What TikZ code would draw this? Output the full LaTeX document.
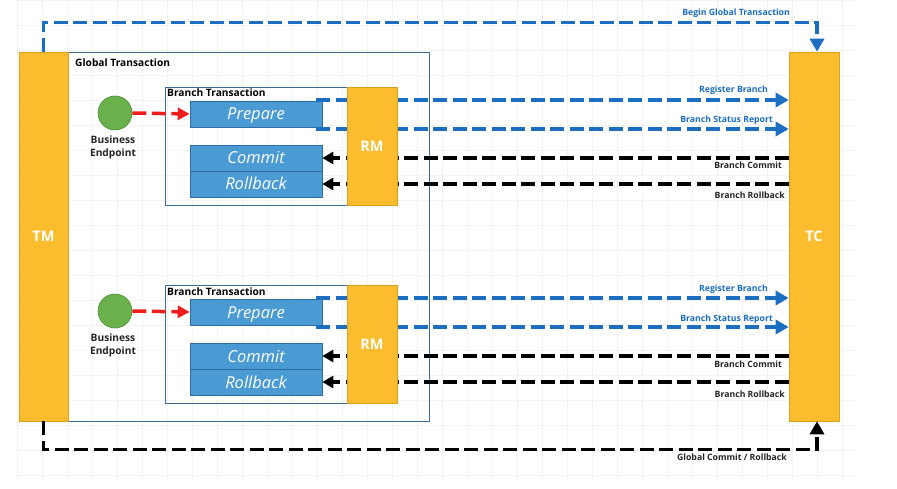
\documentclass[tikz,border=0pt]{standalone}
\usepackage{fontspec}
\setmainfont{Open Sans}
\usetikzlibrary{arrows.meta}
\definecolor{orng}{HTML}{FBBD2E}
\definecolor{orngb}{HTML}{D9A21B}
\definecolor{bluef}{HTML}{4A9AD4}
\definecolor{blueb}{HTML}{2E6DA4}
\definecolor{bluel}{HTML}{1C6EC2}
\definecolor{frameb}{HTML}{3A6A96}
\definecolor{grn}{HTML}{6AB14B}
\definecolor{grnb}{HTML}{4E8A38}
\definecolor{redl}{HTML}{EE1C1C}
\definecolor{gridc}{HTML}{F3F3F3}
\tikzset{
  bigbox/.style={draw=orngb, fill=orng, line width=0.6pt, inner sep=0pt, text=white,
    font=\bfseries\fontsize{14.5}{14.5}\selectfont},
  actbox/.style={draw=blueb, fill=bluef, line width=0.6pt, inner sep=0pt, minimum width=132pt,
    minimum height=26pt, text height=12pt, text depth=0pt, text=white,
    font=\itshape\fontsize{16.5}{16.5}\selectfont},
  framebox/.style={draw=frameb, line width=0.7pt, inner sep=0pt},
  bluedash/.style={draw=bluel, line width=3.5pt, dash pattern=on 14pt off 5.5pt},
  blackdash/.style={draw=black, line width=3.5pt, dash pattern=on 14pt off 5.5pt},
  reddash/.style={draw=redl, line width=3.5pt, dash pattern=on 14pt off 5.5pt},
  bt/.tip={Triangle[length=13pt,width=14pt]},
  kt/.tip={Triangle[length=11pt,width=12pt]},
  rt/.tip={Triangle[length=12pt,width=12pt]},
  bluelbl/.style={inner sep=0pt, anchor=base east, text=bluel, font=\bfseries\fontsize{8.7}{8.7}\selectfont},
  blacklbl/.style={inner sep=0pt, anchor=base east, text=black!85, font=\bfseries\fontsize{8.7}{8.7}\selectfont},
  titlelbl/.style={inner sep=0pt, anchor=base west, text=black, font=\bfseries\fontsize{10.2}{10.2}\selectfont},
  endpt/.style={circle, draw=grnb, fill=grn, line width=0.6pt, minimum size=34pt, inner sep=0pt},
  eplbl/.style={inner sep=0pt, anchor=north, align=center, text=black!85,
    font=\bfseries\fontsize{10.2}{13.5}\selectfont}
}
\begin{document}
\begin{tikzpicture}[x=1pt,y=-1pt]
\useasboundingbox (0,0) rectangle (897,489);
\fill[white] (0,0) rectangle (897,489);
% faint grid
\foreach \gx in {17,42,...,842} \draw[gridc, line width=0.6pt] (\gx,0) -- (\gx,480);
\foreach \gy in {0,25,...,475} \draw[gridc, line width=0.6pt] (15,\gy) -- (855,\gy);

% global transaction frame
\node[framebox, minimum width=361pt, minimum height=369pt] (glob) at (248.5,236.5) {};
\node[titlelbl] (globlbl) at (75,67) {Global Transaction};

% TM and TC
\node[bigbox, minimum width=49pt, minimum height=369pt] (TM) at (43.5,236.5) {TM};
\node[bigbox, minimum width=50pt, minimum height=369pt] (TC) at (814,236.5) {TC};

% branch frames
\node[framebox, minimum width=232pt, minimum height=118pt] (br1) at (281,146) {};
\node[titlelbl] (br1lbl) at (167,97) {Branch Transaction};
\node[framebox, minimum width=232pt, minimum height=118pt] (br2) at (281,344) {};
\node[titlelbl] (br2lbl) at (167,295) {Branch Transaction};

% action boxes
\node[actbox] (P1) at (256,114) {Prepare};
\node[actbox] (C1) at (256,158) {Commit};
\node[actbox] (R1) at (256,184) {Rollback};
\node[actbox] (P2) at (256,312) {Prepare};
\node[actbox] (C2) at (256,356) {Commit};
\node[actbox] (R2) at (256,382) {Rollback};

% business endpoints
\node[endpt] (E1) at (115,113) {};
\node[eplbl] (E1lbl) at (113,135.5) {Business\\Endpoint};
\node[endpt] (E2) at (115,311) {};
\node[eplbl] (E2lbl) at (113,333.5) {Business\\Endpoint};

% red arrows
\draw[reddash, -{rt}] (E1.east) -- (P1.west);
\draw[reddash, -{rt}] (E2.east) -- (P2.west);

% blue branch lines
\coordinate (a1) at (316,100);
\coordinate (b1) at (316,129);
\coordinate (a2) at (316,298);
\coordinate (b2) at (316,327);
\draw[bluedash, -{bt}] (a1) -- (a1 -| TC.west);
\draw[bluedash, -{bt}] (b1) -- (b1 -| TC.west);
\draw[bluedash, -{bt}] (a2) -- (a2 -| TC.west);
\draw[bluedash, -{bt}] (b2) -- (b2 -| TC.west);

% black branch lines
\draw[blackdash, -{kt}] (C1.east -| TC.west) -- (C1.east);
\draw[blackdash, -{kt}] (R1.east -| TC.west) -- (R1.east);
\draw[blackdash, -{kt}] (C2.east -| TC.west) -- (C2.east);
\draw[blackdash, -{kt}] (R2.east -| TC.west) -- (R2.east);

% RM boxes on top
\node[bigbox, minimum width=50pt, minimum height=118pt] (RM1) at (372,146) {RM};
\node[bigbox, minimum width=50pt, minimum height=118pt] (RM2) at (372,344) {RM};

% global begin / end
\draw[bluedash, -{bt}] (TM.north) -- ++(0,-29) -| ([xshift=3pt]TC.north);
\draw[blackdash, -{bt}] (TM.south) -- ++(0,28) -| ([xshift=3pt]TC.south);

% labels
\node[bluelbl] (l0) at (790,15.5) {Begin Global Transaction};
\node[bluelbl] (l1) at (768,93) {Register Branch};
\node[bluelbl] (l2) at (773,123) {Branch Status Report};
\node[blacklbl] (l3) at (782,169) {Branch Commit};
\node[blacklbl] (l4) at (785,199) {Branch Rollback};
\node[bluelbl] (l5) at (768,291) {Register Branch};
\node[bluelbl] (l6) at (773,321) {Branch Status Report};
\node[blacklbl] (l7) at (782,367) {Branch Commit};
\node[blacklbl] (l8) at (785,397) {Branch Rollback};
\node[blacklbl] (l9) at (787,460) {Global Commit / Rollback};
\end{tikzpicture}
\end{document}
